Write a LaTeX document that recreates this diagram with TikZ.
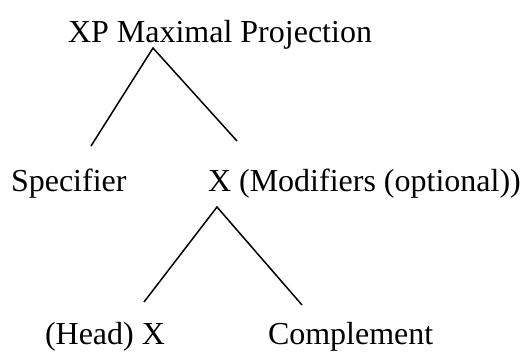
\documentclass[tikz,border=0pt]{standalone}
\usepackage{fontspec}
\setmainfont{Liberation Serif}
\begin{document}
\begin{tikzpicture}[x=1pt,y=1pt,
  lbl/.style={anchor=base west,inner sep=0pt,outer sep=0pt,font=\fontsize{32}{38}\selectfont},
  branch/.style={line width=1.5pt}]
\useasboundingbox (0,0) rectangle (522,351);
\node[lbl] (xp) at (68,308.5) {XP Maximal Projection};
\node[lbl] (spec) at (11,159) {Specifier};
\node[lbl] (xbar) at (208,159) {X (Modifiers (optional))};
\node[lbl] (head) at (45,7) {(Head) X};
\node[lbl] (comp) at (268,7) {Complement};
\coordinate (a1) at (153,303);
\coordinate (l1) at (91,205);
\coordinate (r1) at (237,210);
\coordinate (a2) at (217,144);
\coordinate (l2) at (144,49);
\coordinate (r2) at (302,46);
\draw[branch] (l1) -- (a1) -- (r1);
\draw[branch] (l2) -- (a2) -- (r2);
\end{tikzpicture}
\end{document}
